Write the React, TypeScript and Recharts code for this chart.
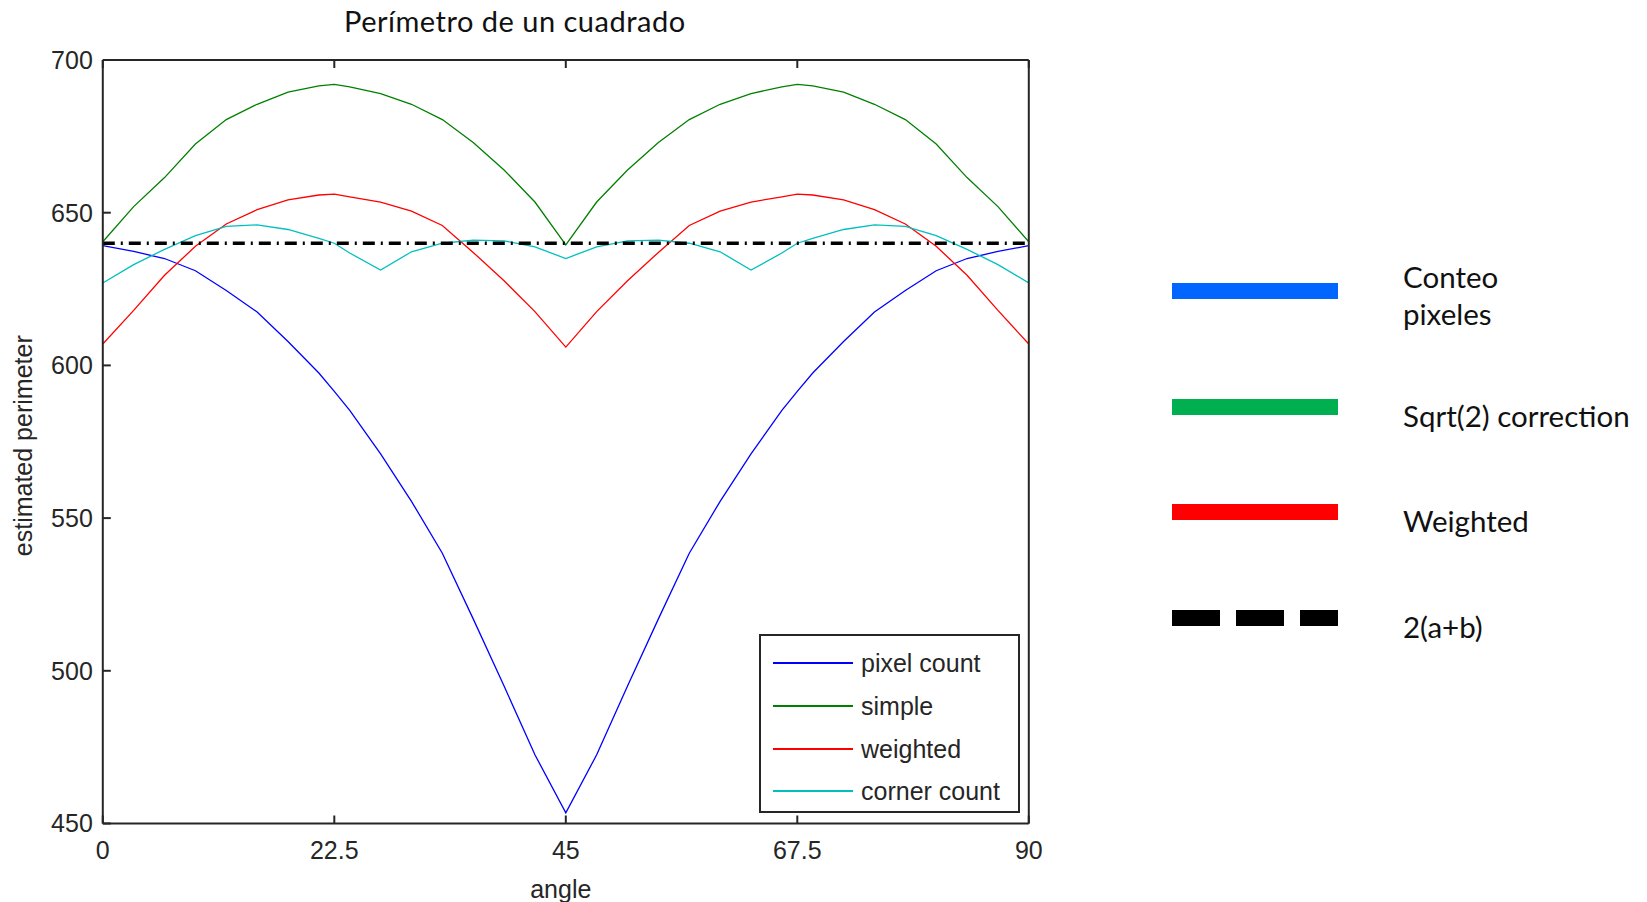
import React from 'react'
import { LineChart, Line, XAxis, YAxis, Legend, ReferenceLine } from 'recharts'

// angle (degrees) of the rotated square
const angles = [
  0, 3, 6, 9, 12, 15, 18, 21, 22.5, 24, 27, 30, 33, 36, 39, 42, 45,
  48, 51, 54, 57, 60, 63, 66, 67.5, 69, 72, 75, 78, 81, 84, 87, 90,
]

// estimated perimeter per method
const pixelCount = [
  639.2, 637.3, 635, 631, 624.5, 617.5, 607.8, 597.5, 591.5, 585.3, 571, 555.5, 538.5, 517, 495, 472.5, 453.5,
  472.5, 495, 517, 538.5, 555.5, 571, 585.3, 591.5, 597.5, 607.8, 617.5, 624.5, 631, 635, 637.3, 639.2,
]
const simple = [
  640.5, 652, 661.5, 672.5, 680.5, 685.5, 689.5, 691.5, 692, 691.2, 689, 685.5, 680.5, 673, 664, 653.5, 639.5,
  653.5, 664, 673, 680.5, 685.5, 689, 691.2, 692, 691.5, 689.5, 685.5, 680.5, 672.5, 661.5, 652, 640.5,
]
const weighted = [
  607, 618, 629.5, 639, 646.3, 651, 654.2, 655.8, 656.1, 655.2, 653.5, 650.5, 645.8, 637, 627.7, 617.6, 606,
  617.6, 627.7, 637, 645.8, 650.5, 653.5, 655.2, 656.1, 655.8, 654.2, 651, 646.3, 639, 629.5, 618, 607,
]
const cornerCount = [
  627, 633, 638, 642.5, 645.5, 646, 644.5, 641.6, 640, 636.8, 631.2, 637.2, 640, 641, 640.8, 638.8, 635,
  638.8, 640.8, 641, 640, 637.2, 631.2, 636.8, 640, 641.6, 644.5, 646, 645.5, 642.5, 638, 633, 627,
]
const truePerimeter = 640 // 2(a+b)

const xTicks = [0, 22.5, 45, 67.5, 90]
const yTicks = [450, 500, 550, 600, 650, 700]

const seriesNames = ['pixel count', 'simple', 'weighted', 'corner count']
const sideLabels = [['Conteo', 'pixeles'], ['Sqrt(2) correction'], ['Weighted'], ['2(a+b)']]

const data = angles.map((a, i) => ({
  angle: a,
  pixel: pixelCount[i],
  simple: simple[i],
  weighted: weighted[i],
  corner: cornerCount[i],
}))

const axisFont = { fontFamily: '"Liberation Sans", Arial, sans-serif', fontSize: 25, fill: '#262626' }
const axisColor = '#262626'

function InnerLegend({ payload }: any) {
  // keep the plotting order, not the alphabetical one
  const items = [...(payload || [])].sort(
    (a: any, b: any) => seriesNames.indexOf(a.value) - seriesNames.indexOf(b.value)
  )
  return (
    <div
      style={{
        width: 261,
        height: 179,
        border: `2px solid ${axisColor}`,
        boxSizing: 'border-box',
        background: '#fff',
        position: 'relative',
      }}
    >
      {items.map((p: any, i: number) => (
        <div
          key={p.value}
          style={{
            position: 'absolute',
            left: 12,
            top: 10 + i * 42.8,
            height: 34,
            display: 'flex',
            alignItems: 'center',
          }}
        >
          <svg width={80} height={4}>
            <line x1={0} y1={2} x2={80} y2={2} stroke={p.color} strokeWidth={2} />
          </svg>
          <span
            style={{
              marginLeft: 8,
              fontFamily: axisFont.fontFamily,
              fontSize: 25,
              color: axisColor,
              lineHeight: '34px',
            }}
          >
            {p.value}
          </span>
        </div>
      ))}
    </div>
  )
}

const yTitle = (props: any) => {
  const vb = props.viewBox
  const cx = vb.x + 23
  const cy = vb.y + vb.height / 2 + 4
  return (
    <text
      x={cx}
      y={cy}
      transform={`rotate(-90, ${cx}, ${cy})`}
      textAnchor="middle"
      dominantBaseline="central"
      {...axisFont}
    >
      estimated perimeter
    </text>
  )
}

const xTitle = (props: any) => {
  const vb = props.viewBox
  const cx = vb.x + vb.width / 2 - 5
  return (
    <text x={cx} y={vb.y + 65} textAnchor="middle" dominantBaseline="central" {...axisFont}>
      angle
    </text>
  )
}

export default function App() {
  const barColors = ['#0066FF', '#00B050', '#FF0000']
  const barCenters = [291, 406.5, 511.5, 617.5]
  const labelCenters = [295, 415, 520, 626]

  return (
    <div
      style={{
        position: 'fixed',
        left: 0,
        top: 0,
        width: 1647,
        height: 902,
        background: '#fff',
        overflow: 'hidden',
      }}
    >
      <div
        style={{
          position: 'absolute',
          left: 344,
          top: 6,
          fontFamily: 'Lato, sans-serif',
          fontSize: 29,
          letterSpacing: 0.5,
          lineHeight: '29px',
          color: '#111',
          whiteSpace: 'nowrap',
        }}
      >
        Perímetro de un cuadrado
      </div>

      <div style={{ position: 'absolute', left: 0, top: 0 }}>
        <LineChart width={1100} height={902} data={data} margin={{ top: 59, right: 70.2, left: 0, bottom: 0 }}>
          <XAxis
            dataKey="angle"
            type="number"
            domain={[0, 90]}
            ticks={xTicks}
            allowDataOverflow
            height={78.5}
            tickSize={-8}
            tickMargin={26}
            stroke={axisColor}
            strokeWidth={2}
            tick={axisFont}
            label={xTitle}
          />
          <XAxis
            xAxisId="top"
            orientation="top"
            dataKey="angle"
            type="number"
            domain={[0, 90]}
            ticks={xTicks}
            height={1}
            tickSize={-8}
            tickFormatter={() => ''}
            stroke={axisColor}
            strokeWidth={2}
          />
          <YAxis
            type="number"
            domain={[450, 700]}
            ticks={yTicks}
            allowDataOverflow
            width={102.8}
            tickSize={-8}
            tickMargin={18}
            stroke={axisColor}
            strokeWidth={2}
            tick={axisFont}
            label={yTitle}
          />
          <YAxis
            yAxisId="right"
            orientation="right"
            type="number"
            domain={[450, 700]}
            ticks={yTicks}
            width={1}
            tickSize={-8}
            tickFormatter={() => ''}
            stroke={axisColor}
            strokeWidth={2}
          />
          <Line type="linear" dataKey="pixel" name={seriesNames[0]} stroke="#0000FF" strokeWidth={1.3} dot={false} isAnimationActive={false} />
          <Line type="linear" dataKey="simple" name={seriesNames[1]} stroke="#008000" strokeWidth={1.3} dot={false} isAnimationActive={false} />
          <Line type="linear" dataKey="weighted" name={seriesNames[2]} stroke="#FF0000" strokeWidth={1.3} dot={false} isAnimationActive={false} />
          <Line type="linear" dataKey="corner" name={seriesNames[3]} stroke="#00BFBF" strokeWidth={1.3} dot={false} isAnimationActive={false} />
          <ReferenceLine y={truePerimeter} stroke="#000" strokeWidth={3.5} strokeDasharray="12 6 2 6" />
          <Legend
            layout="horizontal"
            verticalAlign="middle"
            align="center"
            content={<InnerLegend />}
            wrapperStyle={{ left: 759, top: 634, width: 261, height: 179 }}
          />
        </LineChart>
      </div>

      {/* explanatory legend on the right */}
      {barCenters.map((c, i) => (
        <svg key={'bar' + i} style={{ position: 'absolute', left: 1172, top: c - 8 }} width={166} height={16}>
          <line
            x1={0}
            y1={8}
            x2={166}
            y2={8}
            stroke={i < 3 ? barColors[i] : '#000'}
            strokeWidth={16}
            strokeDasharray={i < 3 ? undefined : '48 16'}
          />
        </svg>
      ))}
      {sideLabels.map((lines, i) => (
        <div
          key={'lab' + i}
          style={{
            position: 'absolute',
            left: 1403,
            top: labelCenters[i] - (lines.length * 37) / 2,
            fontFamily: 'Lato, sans-serif',
            fontSize: 29.5,
            lineHeight: '37px',
            color: '#111',
            whiteSpace: 'nowrap',
          }}
        >
          {lines.map((t) => (
            <div key={t}>{t}</div>
          ))}
        </div>
      ))}
    </div>
  )
}
